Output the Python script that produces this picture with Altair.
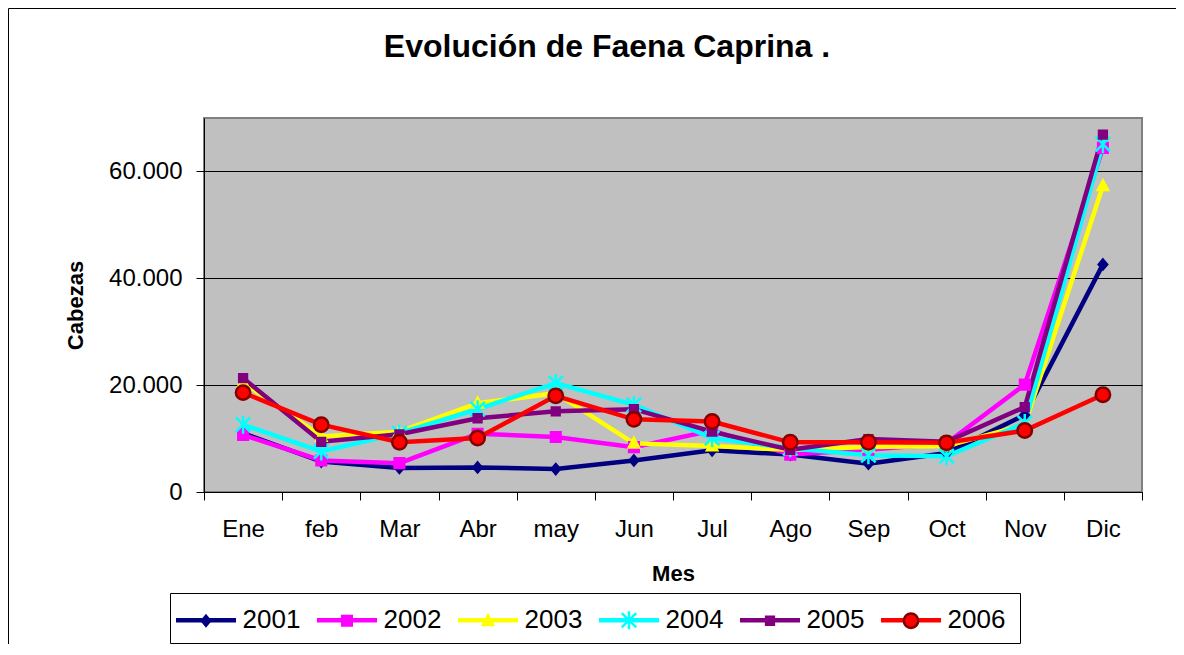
import altair as alt
import pandas as pd

# ---------------- data ----------------
months = ["Ene", "feb", "Mar", "Abr", "may", "Jun", "Jul", "Ago", "Sep", "Oct", "Nov", "Dic"]
years = ["2001", "2002", "2003", "2004", "2005", "2006"]

v2001 = [11000, 5700, 4500, 4600, 4300, 5900, 7800, 7000, 5300, 7300, 14400, 42600]
v2002 = [10700, 5900, 5400, 10900, 10300, 8400, 11500, 7000, 7900, 9100, 20100, 64400]
v2003 = [20500, 10400, 11300, 16600, 18500, 9100, 8600, 7900, 8400, 8600, 12600, 57300]
v2004 = [12600, 7600, 11000, 15500, 20400, 16300, 10100, 8200, 6900, 6700, 12900, 65100]
v2005 = [21300, 9400, 10800, 13800, 15100, 15500, 11300, 7900, 9900, 9400, 15900, 66900]
v2006 = [18600, 12600, 9300, 10100, 18000, 13600, 13200, 9300, 9300, 9200, 11500, 18200]
values_by_year = [v2001, v2002, v2003, v2004, v2005, v2006]

y_ticks = [0, 20000, 40000, 60000]

# ---------------- styles ----------------
line_colors = ["#000080", "#FF00FF", "#FFFF00", "#00FFFF", "#800080", "#FF0000"]
marker_fill = ["#000080", "#FF00FF", "#FFFF00", "transparent", "#800080", "#FF0000"]
marker_stroke = ["#000080", "#FF00FF", "#FFFF00", "#00FFFF", "#800080", "#800000"]
marker_shapes = [
    "M0,-0.33L0.28,0L0,0.33L-0.28,0Z",
    "M-0.32,-0.32H0.32V0.32H-0.32Z",
    "M0,-0.36L0.34,0.28L-0.34,0.28Z",
    "M-0.48,-0.48L0.48,0.48M-0.48,0.48L0.48,-0.48M0,-0.6L0,0.6",
    "M-0.26,-0.26H0.26V0.26H-0.26Z",
    "M-0.48,0A0.48,0.48,0,1,1,0.48,0A0.48,0.48,0,1,1,-0.48,0Z",
]
marker_keys = ["m" + y for y in years]

records = []
for yr, mk, vals in zip(years, marker_keys, values_by_year):
    for m, v in zip(months, vals):
        records.append({"Mes": m, "Cabezas": v, "Serie": yr, "Marcador": mk})
df = pd.DataFrame(records)

FONT = "Liberation Sans"
W, H = 938, 374

x_enc = alt.X(
    "Mes:N",
    sort=months,
    scale=alt.Scale(type="band", domain=months, paddingInner=0, paddingOuter=0),
    axis=alt.Axis(
        title="Mes", tickBand="extent", labelAngle=0, tickSize=8, labelPadding=17,
        titlePadding=22, labelFontSize=24, titleFontSize=22,
    ),
)
y_enc = alt.Y(
    "Cabezas:Q",
    scale=alt.Scale(domain=[0, 70000], nice=False),
    axis=alt.Axis(
        title="Cabezas", values=y_ticks,
        labelExpr="replace(format(datum.value, ','), ',', '.')",
        grid=True, gridColor="black", gridWidth=1, tickSize=8, labelPadding=14,
        titlePadding=21, labelFontSize=24, titleFontSize=22,
    ),
)

LEG_X = -15.5
LEG_Y = 484.5

lines = alt.Chart(df).mark_line(strokeWidth=4.5).encode(
    x=x_enc,
    y=y_enc,
    color=alt.Color(
        "Serie:N",
        scale=alt.Scale(domain=years, range=line_colors),
        legend=alt.Legend(
            title=None, orient="none", direction="horizontal", legendX=LEG_X, legendY=LEG_Y,
            symbolType="M-2,0L2,0", symbolSize=900, symbolStrokeWidth=4.5,
            labelOffset=19, columnPadding=7, padding=0,
            labelFont=FONT, labelFontSize=26, labelColor="black",
        ),
    ),
)

leg2 = alt.Legend(
    title=None, orient="none", direction="horizontal", legendX=LEG_X, legendY=LEG_Y + 1,
    symbolSize=900, symbolStrokeWidth=2.5, symbolOffset=1,
    labelOffset=21, columnPadding=28, padding=0,
    labelFont=FONT, labelFontSize=26, labelOpacity=0,
    labelExpr="slice(datum.label, 1)",
)

points = alt.Chart(df).mark_point(size=900, strokeWidth=2.5, opacity=1, fillOpacity=1).encode(
    x=x_enc,
    y=y_enc,
    fill=alt.Fill("Marcador:N", scale=alt.Scale(domain=marker_keys, range=marker_fill), legend=leg2),
    stroke=alt.Stroke("Marcador:N", scale=alt.Scale(domain=marker_keys, range=marker_stroke), legend=leg2),
    shape=alt.Shape("Marcador:N", scale=alt.Scale(domain=marker_keys, range=marker_shapes), legend=leg2),
)

one = alt.Data(values=[{"k": 1}])
frame = alt.Chart(one).mark_rect(fillOpacity=0, stroke="black", strokeWidth=1).encode(
    x=alt.value(-195.5), x2=alt.value(1100), y=alt.value(-109.5), y2=alt.value(600)
)
legend_box = alt.Chart(one).mark_rect(fill="white", stroke="black", strokeWidth=1).encode(
    x=alt.value(-33.5), x2=alt.value(816.5), y=alt.value(475.5), y2=alt.value(525.5)
)

chart = (
    alt.layer(frame, legend_box, lines, points)
    .properties(
        width=W,
        height=H,
        padding={"left": 196, "top": 110, "right": 34, "bottom": 152},
        autosize=alt.AutoSizeParams(type="none"),
        title=alt.TitleParams(
            text="Evolución de Faena Caprina .", font=FONT, fontSize=32, fontWeight="bold",
            anchor="middle", frame="group", dx=-66, offset=-81, baseline="alphabetic", color="black",
        ),
    )
    .configure(background="white")
    .configure_view(fill="#C0C0C0", stroke="#808080", strokeWidth=2)
    .configure_axis(
        labelFont=FONT, titleFont=FONT, labelColor="black", titleColor="black",
        titleFontWeight="bold", domainColor="black", tickColor="black", domainWidth=1, tickWidth=1,
    )
)

chart.save("out.html", embed_options={"renderer": "svg", "actions": False})
